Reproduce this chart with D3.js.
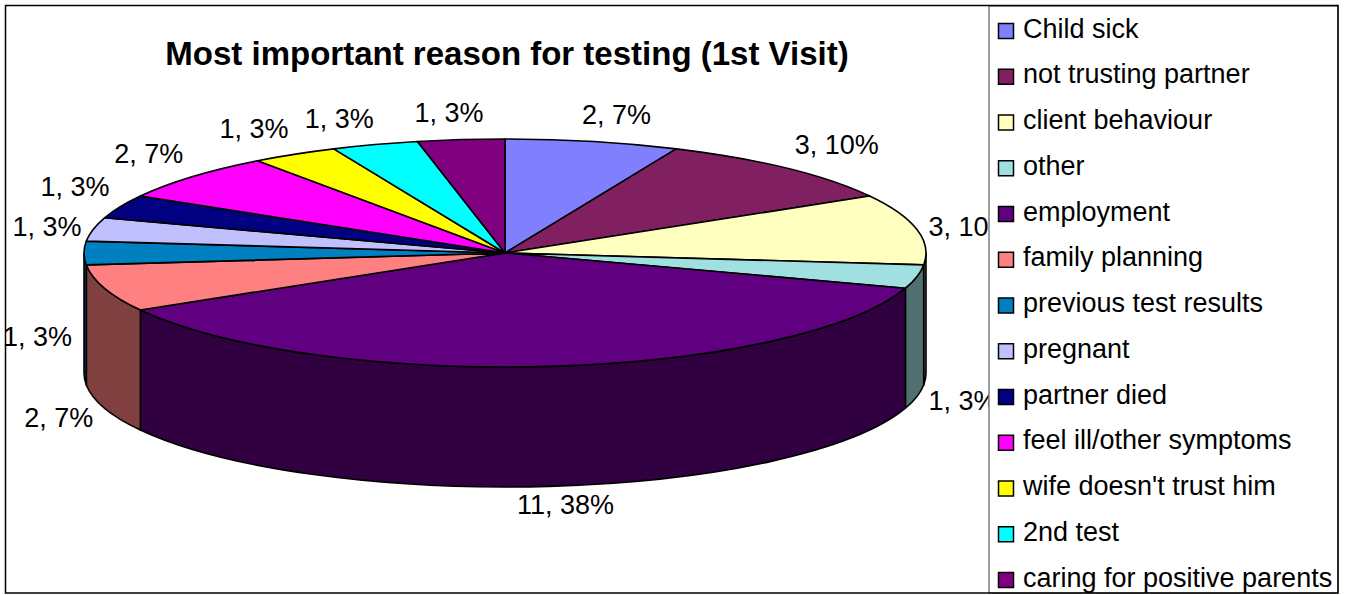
<!DOCTYPE html>
<html>
<head>
<meta charset="utf-8">
<script src="https://cdn.jsdelivr.net/npm/d3@7"></script>
<style>
  html, body { margin: 0; padding: 0; background: #fff; }
  svg { display: block; font-family: "Liberation Sans", Arial, sans-serif; }
</style>
</head>
<body>
<svg id="chart" width="1346" height="595"></svg>
<script>
// Reasons given for testing at the first visit
const title = "Most important reason for testing (1st Visit)";
const categories = [
  "Child sick", "not trusting partner", "client behaviour", "other", "employment",
  "family planning", "previous test results", "pregnant", "partner died",
  "feel ill/other symptoms", "wife doesn't trust him", "2nd test", "caring for positive parents"
];
const counts = [2, 3, 3, 1, 11, 2, 1, 1, 1, 2, 1, 1, 1];
const percentLabels = ["7%", "10%", "10%", "3%", "38%", "7%", "3%", "3%", "3%", "7%", "3%", "3%", "3%"];
const colors = [
  "#8080ff", "#802060", "#ffffc0", "#a0e0e0", "#600080", "#ff8080", "#0080c0",
  "#c0c0ff", "#000080", "#ff00ff", "#ffff00", "#00ffff", "#800080"
];

const svg = d3.select("#chart");

// Tilted pie geometry
const cx = 505, cy = 253, rx = 421, ry = 114, depth = 120;
const pt = (a, dy = 0) => [cx + rx * Math.sin(a), cy - ry * Math.cos(a) + dy];
const shade = c => { const k = d3.rgb(c); return d3.rgb(k.r * 0.5, k.g * 0.5, k.b * 0.5).toString(); };

const slices = d3.pie().value(d => d).sort(null)(counts);

// Side walls: only the front half (90°..270° clockwise from top) is visible
const sideG = svg.append("g");
slices.forEach((s, i) => {
  const a0 = Math.max(s.startAngle, Math.PI / 2);
  const a1 = Math.min(s.endAngle, 3 * Math.PI / 2);
  if (a1 <= a0) return;
  const [x0, y0] = pt(a0), [x1, y1] = pt(a1);
  const large = (a1 - a0) > Math.PI ? 1 : 0;
  const d = `M${x0},${y0} A${rx},${ry} 0 ${large} 1 ${x1},${y1} L${x1},${y1 + depth} ` +
            `A${rx},${ry} 0 ${large} 0 ${x0},${y0 + depth} Z`;
  sideG.append("path")
    .attr("d", d)
    .attr("fill", shade(colors[i]))
    .attr("stroke", "#000")
    .attr("stroke-width", 1.6)
    .attr("stroke-linejoin", "round");
});

// Top face: circular arcs squashed into an ellipse
const arc = d3.arc().innerRadius(0).outerRadius(rx);
const topG = svg.append("g")
  .attr("transform", `translate(${cx},${cy}) scale(1,${ry / rx})`);
topG.selectAll("path")
  .data(slices)
  .join("path")
  .attr("d", arc)
  .attr("fill", (d, i) => colors[i])
  .attr("stroke", "#000")
  .attr("stroke-width", 1.6)
  .attr("stroke-linejoin", "round")
  .attr("vector-effect", "non-scaling-stroke");

// Data labels: "count, percent" placed just outside each slice
const clamp = (v, lo, hi) => Math.max(lo, Math.min(hi, v));
const labelG = svg.append("g")
  .attr("font-size", 27)
  .attr("fill", "#000");
slices.forEach((s, i) => {
  const mid = (s.startAngle + s.endAngle) / 2;
  const sn = Math.sin(mid), cs = Math.cos(mid);
  const gap = 12, hh = 15;
  const t = labelG.append("text")
    .attr("text-anchor", "middle")
    .attr("dy", "0.35em")
    .text(`${counts[i]}, ${percentLabels[i]}`);
  const hw = t.node().getComputedTextLength() / 2;
  const px = cx + (rx + gap) * sn;
  const py = cy - (ry + gap) * cs;
  const x = px + hw * clamp(3 * sn, -1, 1);
  const y = py - hh * clamp(3 * cs, -1, 1) + 0.93 * depth * clamp(0.75 - 3.2 * cs, 0, 1);
  t.attr("x", x).attr("y", y);
});

// Title
svg.append("text")
  .attr("x", 507)
  .attr("y", 65)
  .attr("text-anchor", "middle")
  .attr("font-size", 33)
  .attr("font-weight", "bold")
  .text(title);

// Legend box
const legX = 989, legTop = 6, legBottom = 593, legRight = 1338;
svg.append("rect")
  .attr("x", legX).attr("y", legTop)
  .attr("width", legRight - legX).attr("height", legBottom - legTop)
  .attr("fill", "#fff")
  .attr("stroke", "#808080")
  .attr("stroke-width", 1.5);

const rowY = d3.scalePoint().domain(categories).range([31, 580]);
const legItems = svg.append("g").selectAll("g")
  .data(categories)
  .join("g")
  .attr("transform", d => `translate(0,${rowY(d)})`);
legItems.append("rect")
  .attr("x", 998.5).attr("y", -7.5)
  .attr("width", 15).attr("height", 15)
  .attr("fill", (d, i) => colors[i])
  .attr("stroke", "#000")
  .attr("stroke-width", 1.5);
legItems.append("text")
  .attr("x", 1023)
  .attr("y", 6.5)
  .attr("font-size", 27)
  .text(d => d);

// Chart area border
svg.append("rect")
  .attr("x", 5.5).attr("y", 5.5)
  .attr("width", 1332.5).attr("height", 587.5)
  .attr("fill", "none")
  .attr("stroke", "#000")
  .attr("stroke-width", 1.5);
</script>
</body>
</html>
